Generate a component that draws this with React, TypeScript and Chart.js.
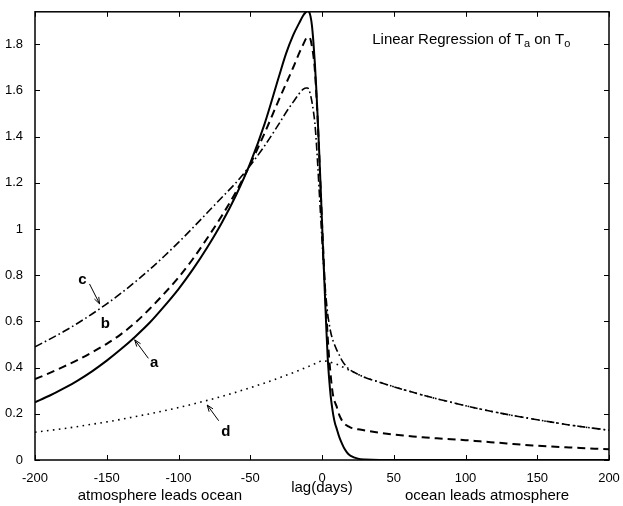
import React, { useEffect, useRef } from "react";
import { Chart, registerables } from "chart.js";

Chart.register(...registerables);

// ---------- data ----------
const lags = [
  -200, -190, -180, -170, -160, -150, -140, -130, -120, -110, -100, -90, -80, -70, -60, -50, -40, -30,
  -25, -20, -16, -13, -11,
  -10, -9, -8, -7, -6, -5, -4, -3, -2, -1, 0, 1, 2, 3, 4, 5, 6, 7, 8, 9, 10,
  12, 14, 16, 18, 20, 25, 30,
  40, 50, 60, 70, 80, 90, 100, 110, 120, 130, 140, 150, 160, 170, 180, 190, 200,
];

const seriesA = [
  0.25, 0.278, 0.31, 0.345, 0.385, 0.43, 0.48, 0.535, 0.595, 0.665, 0.74, 0.825, 0.92, 1.025, 1.145, 1.285, 1.455, 1.66,
  1.76, 1.84, 1.89, 1.925, 1.94,
  1.945, 1.94, 1.92, 1.88, 1.81, 1.72, 1.61, 1.48, 1.34, 1.19, 1.03, 0.87, 0.72, 0.57, 0.44, 0.35, 0.28, 0.23, 0.19, 0.16, 0.14,
  0.1, 0.07, 0.045, 0.028, 0.018, 0.006, 0.002,
  0, 0, 0, 0, 0, 0, 0, 0, 0, 0, 0, 0, 0, 0, 0, 0, 0,
];

const seriesB = [
  0.35, 0.376, 0.404, 0.434, 0.467, 0.503, 0.545, 0.595, 0.655, 0.72, 0.79, 0.87, 0.96, 1.055, 1.16, 1.28, 1.415, 1.56,
  1.63, 1.7, 1.76, 1.8, 1.825,
  1.83, 1.83, 1.82, 1.79, 1.75, 1.69, 1.59, 1.47, 1.33, 1.18, 1.03, 0.89, 0.76, 0.64, 0.53, 0.44, 0.37, 0.31, 0.27, 0.25, 0.235,
  0.195, 0.17, 0.155, 0.147, 0.14, 0.133, 0.128,
  0.118, 0.11, 0.104, 0.098, 0.094, 0.09, 0.086, 0.081, 0.076, 0.071, 0.066, 0.062, 0.058, 0.055, 0.052, 0.049, 0.046,
];

const seriesC = [
  0.49, 0.522, 0.556, 0.593, 0.633, 0.676, 0.722, 0.772, 0.825, 0.882, 0.942, 1.005, 1.07, 1.135, 1.2, 1.275, 1.36, 1.455,
  1.505, 1.55, 1.585, 1.605, 1.61,
  1.61, 1.6, 1.58, 1.55, 1.51, 1.46, 1.38, 1.28, 1.17, 1.06, 0.95, 0.85, 0.76, 0.69, 0.63, 0.59, 0.555, 0.53, 0.51, 0.495, 0.48,
  0.455, 0.43, 0.412, 0.398, 0.388, 0.371, 0.357,
  0.337, 0.317, 0.299, 0.281, 0.265, 0.25, 0.235, 0.221, 0.208, 0.196, 0.185, 0.174, 0.164, 0.154, 0.145, 0.137, 0.129,
];

const seriesD = [
  0.12, 0.128, 0.136, 0.145, 0.155, 0.165, 0.176, 0.188, 0.2, 0.213, 0.227, 0.242, 0.258, 0.275, 0.293, 0.313, 0.333, 0.355,
  0.367, 0.378, 0.388, 0.396, 0.401,
  0.404, 0.406, 0.409, 0.412, 0.414, 0.417, 0.42, 0.422, 0.425, 0.428, 0.43, 0.43, 0.429, 0.428, 0.427, 0.425, 0.423, 0.421, 0.419, 0.417, 0.415,
  0.41, 0.404, 0.398, 0.392, 0.386, 0.371, 0.357,
  0.337, 0.317, 0.299, 0.281, 0.265, 0.25, 0.235, 0.221, 0.208, 0.196, 0.185, 0.174, 0.164, 0.154, 0.145, 0.137, 0.129,
];

const xTicks = [-200, -150, -100, -50, 0, 50, 100, 150, 200];
const xTickLabels = ["-200", "-150", "-100", "-50", "0", "50", "100", "150", "200"];
const yTicks = [0, 0.2, 0.4, 0.6, 0.8, 1, 1.2, 1.4, 1.6, 1.8];
const yTickLabels = ["0", "0.2", "0.4", "0.6", "0.8", "1", "1.2", "1.4", "1.6", "1.8"];

const xAxisTitle = "lag(days)";
const leftNote = "atmosphere leads ocean";
const rightNote = "ocean leads atmosphere";
const titleParts = ["Linear Regression of T", "a", " on T", "o"];

// curve labels (text, label position, arrow from, arrow to) in data units
const curveLabels = [
  { text: "c", at: [-167, 0.78], from: [-162, 0.762], to: [-155, 0.676] },
  { text: "b", at: [-151, 0.59], from: null, to: null },
  { text: "a", at: [-117, 0.42], from: [-121, 0.44], to: [-130.5, 0.52] },
  { text: "d", at: [-67, 0.12], from: [-72, 0.17], to: [-80, 0.238] },
];

const FONT = "'Liberation Sans', Arial, Helvetica, sans-serif";

const toPoints = (vals: number[]) => lags.map((l, i) => ({ x: l, y: vals[i] }));

const decorPlugin = {
  id: "decor",
  afterDatasetsDraw(chart: any) {
    const { ctx, chartArea, scales } = chart;
    const { left, right, top, bottom } = chartArea;
    const x = scales.x;
    const y = scales.y;
    ctx.save();
    ctx.strokeStyle = "#000";
    ctx.fillStyle = "#000";
    // box
    ctx.lineWidth = 1.5;
    ctx.strokeRect(left, top, right - left, bottom - top);
    // inward ticks on all sides
    ctx.lineWidth = 1;
    const tl = 5;
    ctx.beginPath();
    xTicks.forEach((v) => {
      const px = Math.round(x.getPixelForValue(v)) + 0.5;
      ctx.moveTo(px, bottom);
      ctx.lineTo(px, bottom - tl);
      ctx.moveTo(px, top);
      ctx.lineTo(px, top + tl);
    });
    yTicks.forEach((v) => {
      const py = Math.round(y.getPixelForValue(v)) + 0.5;
      ctx.moveTo(left, py);
      ctx.lineTo(left + tl, py);
      ctx.moveTo(right, py);
      ctx.lineTo(right - tl, py);
    });
    ctx.stroke();

    // title inside plot
    ctx.textBaseline = "alphabetic";
    ctx.textAlign = "left";
    let tx = x.getPixelForValue(35);
    const ty = y.getPixelForValue(1.8);
    titleParts.forEach((part, i) => {
      const sub = i % 2 === 1;
      ctx.font = sub ? `11px ${FONT}` : `15px ${FONT}`;
      ctx.fillText(part, tx, sub ? ty + 3 : ty);
      tx += ctx.measureText(part).width;
    });

    // curve labels with arrows
    curveLabels.forEach((c) => {
      ctx.font = `bold 15px ${FONT}`;
      ctx.textAlign = "center";
      ctx.textBaseline = "middle";
      ctx.fillText(c.text, x.getPixelForValue(c.at[0]), y.getPixelForValue(c.at[1]));
      if (c.from && c.to) {
        const fx = x.getPixelForValue(c.from[0]);
        const fy = y.getPixelForValue(c.from[1]);
        const ax = x.getPixelForValue(c.to[0]);
        const ay = y.getPixelForValue(c.to[1]);
        ctx.lineWidth = 1;
        ctx.beginPath();
        ctx.moveTo(fx, fy);
        ctx.lineTo(ax, ay);
        const ang = Math.atan2(ay - fy, ax - fx);
        const hl = 7;
        ctx.moveTo(ax, ay);
        ctx.lineTo(ax - hl * Math.cos(ang - 0.35), ay - hl * Math.sin(ang - 0.35));
        ctx.moveTo(ax, ay);
        ctx.lineTo(ax - hl * Math.cos(ang + 0.35), ay - hl * Math.sin(ang + 0.35));
        ctx.stroke();
      }
    });

    // notes below the axis
    ctx.font = `15px ${FONT}`;
    ctx.textAlign = "center";
    ctx.textBaseline = "middle";
    ctx.fillText(leftNote, x.getPixelForValue(-113), bottom + 36);
    ctx.fillText(rightNote, x.getPixelForValue(115), bottom + 36);
    ctx.restore();
  },
};

export default function App() {
  const ref = useRef<HTMLCanvasElement | null>(null);

  useEffect(() => {
    document.body.style.margin = "0";
    const canvas = ref.current;
    if (!canvas) return;
    const chart = new Chart(canvas, {
      type: "line",
      data: {
        datasets: [
          {
            label: "d",
            data: toPoints(seriesD),
            borderColor: "#000",
            borderWidth: 1.6,
            borderDash: [1.6, 4.4],
            pointRadius: 0,
            cubicInterpolationMode: "monotone",
          },
          {
            label: "c",
            data: toPoints(seriesC),
            borderColor: "#000",
            borderWidth: 1.6,
            borderDash: [8, 3, 1.6, 3],
            pointRadius: 0,
            cubicInterpolationMode: "monotone",
          },
          {
            label: "b",
            data: toPoints(seriesB),
            borderColor: "#000",
            borderWidth: 2,
            borderDash: [8, 5],
            pointRadius: 0,
            cubicInterpolationMode: "monotone",
          },
          {
            label: "a",
            data: toPoints(seriesA),
            borderColor: "#000",
            borderWidth: 2,
            pointRadius: 0,
            cubicInterpolationMode: "monotone",
          },
        ],
      },
      options: {
        responsive: false,
        animation: false,
        events: [],
        layout: { padding: { top: 8, right: 14, left: 0, bottom: 0 } },
        plugins: {
          legend: { display: false },
          tooltip: { enabled: false },
          title: { display: false },
        },
        scales: {
          x: {
            type: "linear",
            min: -200,
            max: 200,
            grid: { display: false },
            border: { display: false },
            afterBuildTicks: (s: any) => {
              s.ticks = xTicks.map((v) => ({ value: v }));
            },
            afterFit: (s: any) => {
              s.height = 46;
            },
            ticks: {
              color: "#000",
              font: { family: FONT, size: 13 },
              padding: 3,
              maxRotation: 0,
              autoSkip: false,
              callback: (_v: any, i: number) => xTickLabels[i],
            },
            title: {
              display: true,
              text: xAxisTitle,
              color: "#000",
              font: { family: FONT, size: 15 },
              padding: { top: 0, bottom: 9 },
            },
          },
          y: {
            type: "linear",
            min: 0,
            max: 1.94,
            grid: { display: false },
            border: { display: false },
            afterBuildTicks: (s: any) => {
              s.ticks = yTicks.map((v) => ({ value: v }));
            },
            afterFit: (s: any) => {
              s.width = 35;
            },
            ticks: {
              color: "#000",
              font: { family: FONT, size: 13 },
              padding: 4,
              autoSkip: false,
              callback: (_v: any, i: number) => yTickLabels[i],
            },
          },
        },
      },
      plugins: [decorPlugin],
    } as any);
    return () => chart.destroy();
  }, []);

  return (
    <div style={{ width: 623, height: 506, background: "#fff" }}>
      <canvas ref={ref} width={623} height={506} />
    </div>
  );
}
